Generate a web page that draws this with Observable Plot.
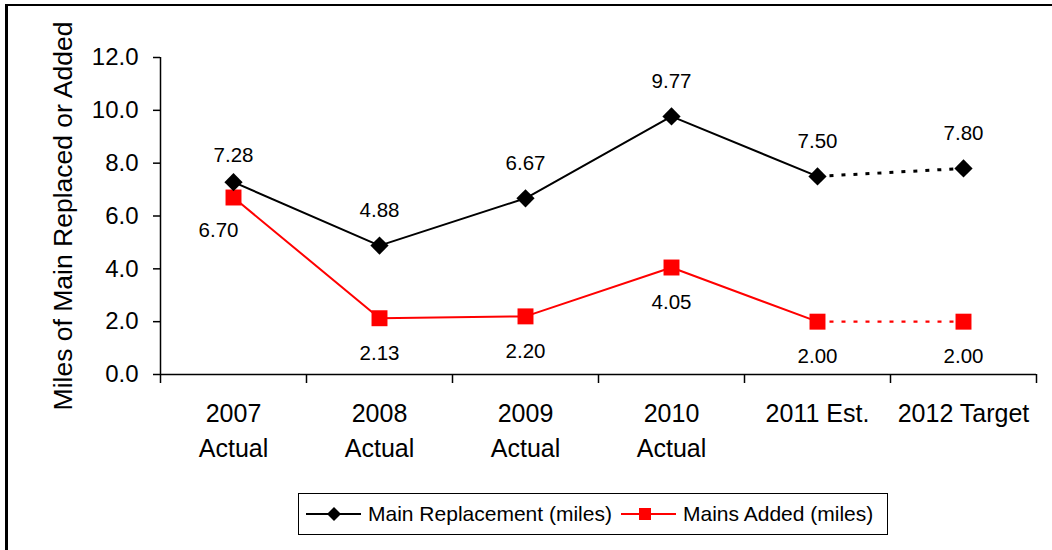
<!DOCTYPE html>
<html>
<head>
<meta charset="utf-8">
<script src="https://cdn.jsdelivr.net/npm/d3@7"></script>
<script src="https://cdn.jsdelivr.net/npm/@observablehq/plot@0.6"></script>
<style>
  html, body { margin: 0; padding: 0; background: #fff; }
  body { width: 1052px; height: 550px; overflow: hidden; position: relative; font-family: "Liberation Sans", Arial, sans-serif; }
  #frame { position: absolute; left: 5px; top: 4px; width: 1100px; height: 600px; border-left: 3px solid #000; border-top: 2px solid #000; pointer-events: none; }
  #chart { position: absolute; left: 0; top: 0; }
  #legend { position: absolute; left: 298px; top: 493px; width: 588px; height: 40px; border: 1px solid #000; background: #fff; }
  #legend .item { position: absolute; top: 0; height: 40px; display: flex; align-items: center; font-size: 21px; color: #000; white-space: nowrap; }
  #legend svg { display: block; margin-right: 7px; }
</style>
</head>
<body>
<div id="chart"></div>
<div id="frame"></div>
<div id="legend"></div>
<script>
// ---- data ----
const categories = ["2007\nActual", "2008\nActual", "2009\nActual", "2010\nActual", "2011 Est.", "2012 Target"];
const mainReplacement = [7.28, 4.88, 6.67, 9.77, 7.50, 7.80];
const mainsAdded = [6.70, 2.13, 2.20, 4.05, 2.00, 2.00];
const yTicks = [0, 2, 4, 6, 8, 10, 12];
const seriesNames = ["Main Replacement (miles)", "Mains Added (miles)"];
const yTitle = "Miles of Main Replaced or Added";
const estimateIndex = 4; // from "2011 Est." onward the line is dotted

// ---- build rows ----
const rowsFor = (values, series) => values.map((v, i) => ({ i, x: i + 0.5, value: v, series, label: v.toFixed(2) }));
const black = rowsFor(mainReplacement, seriesNames[0]);
const red = rowsFor(mainsAdded, seriesNames[1]);

const font = "'Liberation Sans', Arial, sans-serif";

const chart = Plot.plot({
  width: 1052,
  height: 550,
  marginLeft: 160,
  marginRight: 16,
  marginTop: 57,
  marginBottom: 176,
  x: { domain: [0, categories.length], axis: null },
  y: { domain: [0, 12], axis: null },
  style: { fontFamily: font, background: "transparent", color: "#000", overflow: "visible" },
  marks: [
    Plot.axisY({ ticks: yTicks, tickFormat: d => d.toFixed(1), tickSize: 7, tickPadding: 15, fontSize: 24, label: null, strokeWidth: 1.5 }),
    Plot.axisX({ ticks: d3.range(0, categories.length + 1), tickFormat: () => "", tickSize: 9, label: null, strokeWidth: 1.5 }),
    Plot.axisX({ ticks: categories.map((_, i) => i + 0.5), tickFormat: d => categories[Math.floor(d)], tickSize: 0, tickPadding: 23, fontSize: 25, lineHeight: 1.4, label: null }),
    Plot.ruleX([0], { strokeWidth: 1.5 }),
    Plot.ruleY([0], { strokeWidth: 1.5 }),
    Plot.text([yTitle], { frameAnchor: "left", textAnchor: "middle", rotate: -90, dx: -97, fontSize: 26.5 }),
    // lines
    Plot.line(black.filter(d => d.i <= estimateIndex), { x: "x", y: "value", stroke: "#000", strokeWidth: 2 }),
    Plot.line(black.filter(d => d.i >= estimateIndex), { x: "x", y: "value", stroke: "#000", strokeWidth: 3, strokeDasharray: "4,8", strokeLinecap: "butt" }),
    Plot.line(red.filter(d => d.i <= estimateIndex), { x: "x", y: "value", stroke: "#ff0000", strokeWidth: 2 }),
    Plot.line(red.filter(d => d.i >= estimateIndex), { x: "x", y: "value", stroke: "#ff0000", strokeWidth: 2.2, strokeDasharray: "4,8", strokeLinecap: "butt" }),
    // markers
    Plot.dot(red, { x: "x", y: "value", symbol: "square", r: 9, fill: "#ff0000" }),
    Plot.dot(black, { x: "x", y: "value", symbol: "diamond2", r: 8.2, fill: "#000" }),
    // data labels
    Plot.text(black.filter(d => d.i > 0), { x: "x", y: "value", text: "label", dy: -35, fontSize: 20.5 }),
    Plot.text(black.filter(d => d.i === 0), { x: "x", y: "value", text: "label", dy: -27, fontSize: 20.5 }),
    Plot.text(red.filter(d => d.i > 0), { x: "x", y: "value", text: "label", dy: 35, fontSize: 20.5 }),
    Plot.text(red.filter(d => d.i === 0), { x: "x", y: "value", text: "label", dx: -15, dy: 33, fontSize: 20.5 })
  ]
});
document.getElementById("chart").appendChild(chart);

// ---- legend ----
const legend = document.getElementById("legend");
const legendItems = [
  { name: seriesNames[0], color: "#000", shape: "diamond", left: 7 },
  { name: seriesNames[1], color: "#ff0000", shape: "square", left: 322 }
];
legendItems.forEach(it => {
  const div = document.createElement("div");
  div.className = "item";
  div.style.left = it.left + "px";
  const marker = it.shape === "diamond"
    ? `<polygon points="28,4 35,11 28,18 21,11" fill="${it.color}"/>`
    : `<rect x="18" y="5" width="12" height="12" fill="${it.color}"/>`;
  div.innerHTML = `<svg width="55" height="22"><line x1="0" y1="11" x2="55" y2="11" stroke="${it.color}" stroke-width="2"/>${marker}</svg><span></span>`;
  div.querySelector("span").textContent = it.name;
  legend.appendChild(div);
});
</script>
</body>
</html>
